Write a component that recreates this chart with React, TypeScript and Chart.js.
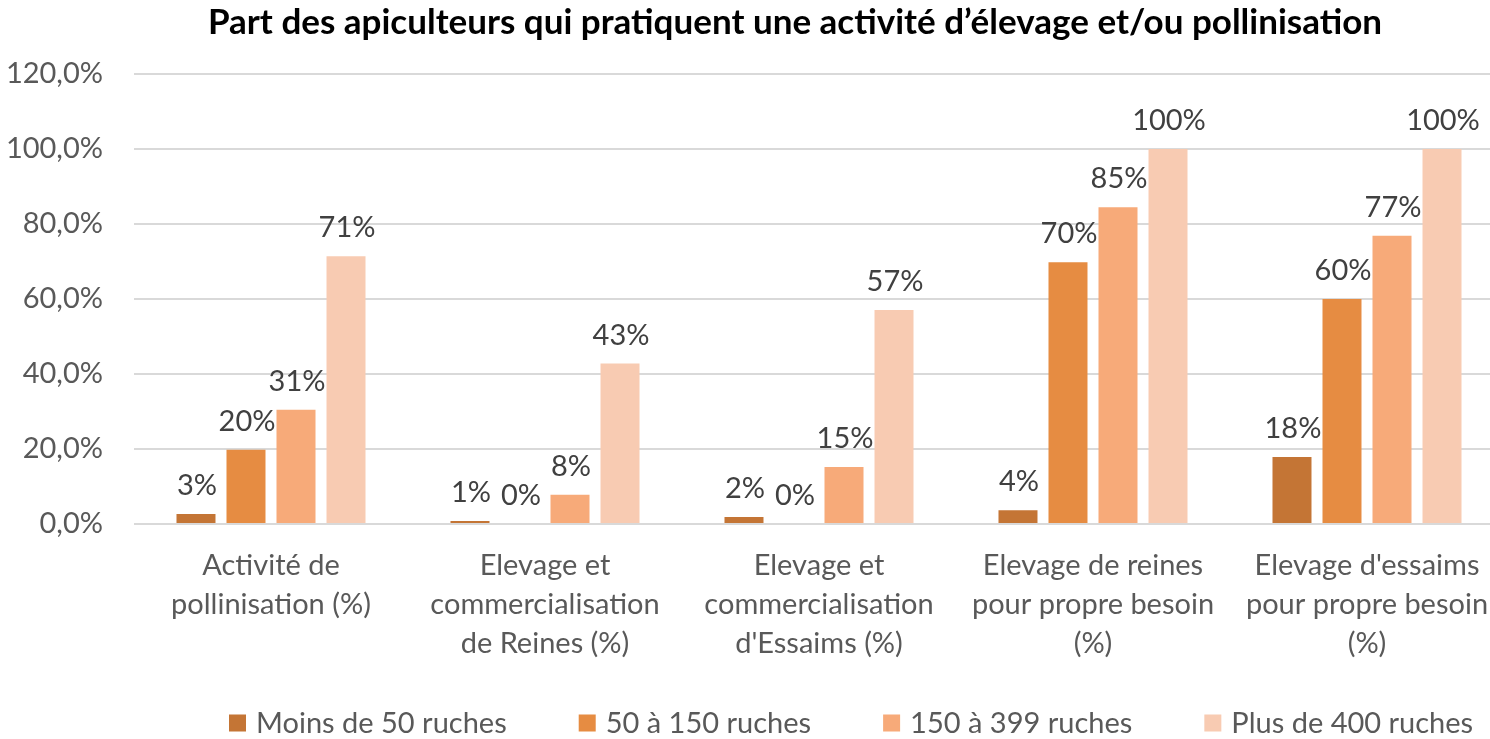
import React, { useEffect, useRef } from "react";
import { Chart, registerables } from "chart.js";

Chart.register(...registerables);

const title = "Part des apiculteurs qui pratiquent une activité d’élevage et/ou pollinisation";
const categories: string[][] = [
  ["Activité de", "pollinisation (%)"],
  ["Elevage et", "commercialisation", "de Reines (%)"],
  ["Elevage et", "commercialisation", "d'Essaims (%)"],
  ["Elevage de reines", "pour propre besoin", "(%)"],
  ["Elevage d'essaims", "pour propre besoin", "(%)"],
];

const seriesNames = ["Moins de 50 ruches", "50 à 150 ruches", "150 à 399 ruches", "Plus de 400 ruches"];
const moins50 = [2.7, 0.8, 1.9, 3.7, 17.9];
const de50a150 = [19.8, 0, 0, 69.8, 60];
const de150a399 = [30.5, 7.8, 15.2, 84.5, 76.9];
const plus400 = [71.4, 42.8, 57.1, 100, 100];
const colors = ["#C47535", "#E68C42", "#F7AA79", "#F8CBB2"];
const yTicks = [0, 20, 40, 60, 80, 100, 120];

const FONT = "Lato, 'Open Sans', sans-serif";
const FS = 29;

const labelPlugin = {
  id: "barLabels",
  afterDatasetsDraw(chart: any) {
    const ctx = chart.ctx;
    ctx.save();
    ctx.font = `${FS}px ${FONT}`;
    ctx.fillStyle = "#404040";
    ctx.textAlign = "center";
    ctx.textBaseline = "alphabetic";
    chart.data.datasets.forEach((ds: any, i: number) => {
      const meta = chart.getDatasetMeta(i);
      meta.data.forEach((el: any, j: number) => {
        const v = ds.data[j] as number;
        ctx.fillText(Math.round(v) + "%", el.x + 1, el.y - 19);
      });
    });
    ctx.restore();
  },
};

const titleLegendPlugin = {
  id: "titleLegend",
  afterDraw(chart: any) {
    const ctx = chart.ctx;
    ctx.save();
    ctx.font = `bold 35px ${FONT}`;
    ctx.fillStyle = "#000000";
    ctx.textAlign = "center";
    ctx.textBaseline = "middle";
    ctx.fillText(title, 795, 23);
    ctx.font = `${FS}px ${FONT}`;
    ctx.textAlign = "left";
    const box = 17;
    const gapText = 10;
    const gapItem = 72;
    const y = 723;
    let x = 229;
    chart.data.datasets.forEach((ds: any) => {
      ctx.fillStyle = ds.backgroundColor;
      ctx.fillRect(x, y - box / 2, box, box);
      x += box + gapText;
      ctx.fillStyle = "#595959";
      ctx.fillText(ds.label, x, y + 1);
      x += ctx.measureText(ds.label).width + gapItem;
    });
    ctx.restore();
  },
};

export default function App() {
  const ref = useRef<HTMLCanvasElement>(null);
  useEffect(() => {
    const series = [moins50, de50a150, de150a399, plus400];
    const chart = new Chart(ref.current!, {
      type: "bar",
      data: {
        labels: categories,
        datasets: series.map((d, i) => ({
          label: seriesNames[i],
          data: d,
          backgroundColor: colors[i],
          categoryPercentage: 0.73,
          barPercentage: 0.78,
        })),
      },
      options: {
        animation: false,
        responsive: false,
        maintainAspectRatio: false,
        layout: { padding: { left: 0, right: 0, top: 74, bottom: 54 } },
        plugins: {
          title: { display: false },
          legend: { display: false },
          tooltip: { enabled: false },
        },
        scales: {
          x: {
            afterFit: (axis: any) => {
              axis.paddingLeft = 0;
              axis.paddingRight = 0;
            },
            grid: { display: false, drawTicks: false },
            border: { display: false },
            ticks: {
              color: "#595959",
              font: { family: FONT, size: FS, lineHeight: 39 / FS },
              padding: 22,
              maxRotation: 0,
              autoSkip: false,
            },
          },
          y: {
            min: 0,
            max: 120,
            afterBuildTicks: (axis: any) => {
              axis.ticks = yTicks.map((v) => ({ value: v }));
            },
            afterFit: (axis: any) => {
              axis.width = 134;
            },
            grid: { color: "#D9D9D9", lineWidth: 2, drawTicks: false },
            border: { display: false },
            ticks: {
              color: "#595959",
              font: { family: FONT, size: FS },
              padding: 31,
              callback: (v: any) => Number(v).toFixed(1).replace(".", ",") + "%",
            },
          },
        },
      },
      plugins: [labelPlugin, titleLegendPlugin],
    });
    return () => chart.destroy();
  }, []);
  return (
    <div style={{ position: "fixed", left: 0, top: 0, width: 1490, height: 739, overflow: "hidden", background: "#fff" }}>
      <canvas ref={ref} width={1504} height={739} />
    </div>
  );
}
